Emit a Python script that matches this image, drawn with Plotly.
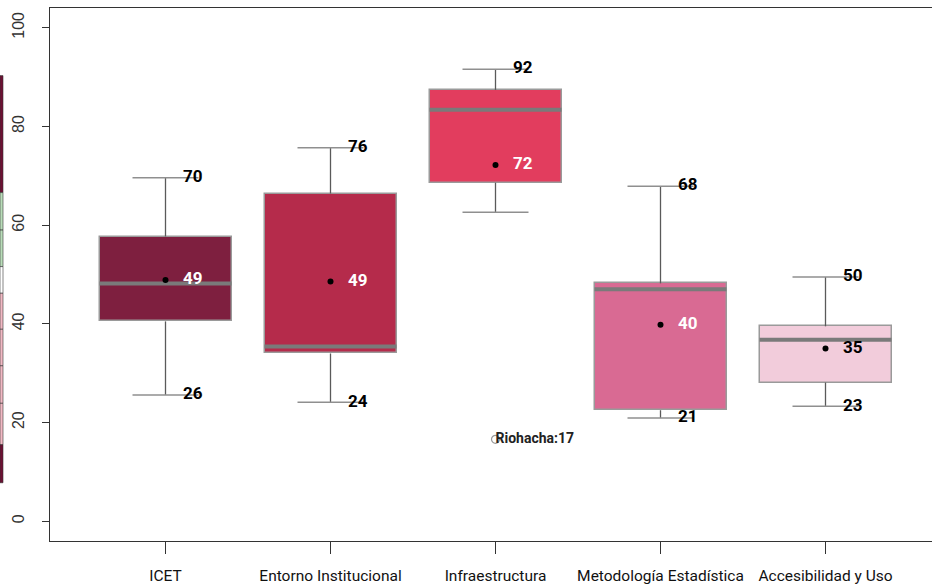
import plotly.graph_objects as go

categories = ["ICET", "Entorno Institucional", "Infraestructura",
              "Metodología Estadística", "Accesibilidad y Uso"]
lower_whisker = [25.6, 24.1, 62.6, 20.9, 23.3]
q1 = [40.5, 34.0, 68.6, 22.5, 28.1]
median = [48.2, 35.4, 83.4, 47.0, 36.8]
q3 = [57.7, 66.4, 87.4, 48.2, 39.5]
upper_whisker = [69.6, 75.7, 91.6, 67.9, 49.5]
means = [48.9, 48.6, 72.2, 39.8, 35.0]
max_labels = ["70", "76", "92", "68", "50"]
min_labels = ["26", "24", "", "21", "23"]
mean_labels = ["49", "49", "72", "40", "35"]
mean_label_colors = ["white", "white", "white", "white", "black"]
box_colors = ["#7E1F3F", "#B52B4B", "#E23D5E", "#D96A93", "#F2CCDB"]

outlier_cat = [3]
outlier_val = [16.6]
outlier_text = ["Riohacha:17"]

y_ticks = [0, 20, 40, 60, 80, 100]

# decorative cropped legend strip on the far left (value bounds + colours)
strip_bounds = [90.3, 66.6, 59.0, 51.6, 46.2, 38.9, 31.5, 23.9, 15.5, 7.8]
strip_colors = ["#6E0F33", "#B9DDB9", "#B9DDB9", "#FFFFFF", "#F2B9C4",
                "#F2B9C4", "#F2B9C4", "#F2B9C4", "#6E0F33"]

BW = 0.8
xs = list(range(1, len(categories) + 1))
NARROW = "Liberation Sans Narrow, Roboto, sans-serif"

fig = go.Figure()

# whisker stems
wx, wy = [], []
for x, lo, a, b, hi in zip(xs, lower_whisker, q1, q3, upper_whisker):
    wx += [x, x, None, x, x, None]
    wy += [b, hi, None, lo, a, None]
fig.add_trace(go.Scatter(x=wx, y=wy, mode="lines",
                         line=dict(color="#5a5a5a", width=1.3),
                         hoverinfo="skip", showlegend=False))
# staples
sx, sy = [], []
for x, lo, hi in zip(xs, lower_whisker, upper_whisker):
    sx += [x - BW / 4, x + BW / 4, None, x - BW / 4, x + BW / 4, None]
    sy += [hi, hi, None, lo, lo, None]
fig.add_trace(go.Scatter(x=sx, y=sy, mode="lines",
                         line=dict(color="#8f8f8f", width=1.5),
                         hoverinfo="skip", showlegend=False))

# boxes
fig.add_trace(go.Bar(x=xs, y=[b - a for a, b in zip(q1, q3)], base=q1,
                     width=BW, marker=dict(color=box_colors,
                                           line=dict(color="#9a9a9a", width=1.5)),
                     hoverinfo="skip", showlegend=False))

# medians
mx, my = [], []
for x, m in zip(xs, median):
    mx += [x - BW / 2, x + BW / 2, None]
    my += [m, m, None]
fig.add_trace(go.Scatter(x=mx, y=my, mode="lines",
                         line=dict(color="#7a7a7a", width=4),
                         hoverinfo="skip", showlegend=False))

# means
fig.add_trace(go.Scatter(x=xs, y=means, mode="markers",
                         marker=dict(color="black", size=6),
                         hoverinfo="skip", showlegend=False))

OFF = 0.165
lab_font = dict(family=NARROW, size=17, weight="bold")
fig.add_trace(go.Scatter(x=[x + OFF for x in xs], y=means, mode="text",
                         text=mean_labels, textposition="middle center",
                         textfont=dict(lab_font, color=mean_label_colors),
                         hoverinfo="skip", showlegend=False))
fig.add_trace(go.Scatter(x=[x + OFF for x in xs], y=upper_whisker, mode="text",
                         text=max_labels, textposition="middle center",
                         textfont=dict(lab_font, color="black"),
                         hoverinfo="skip", showlegend=False))
fig.add_trace(go.Scatter(x=[x + OFF for x in xs], y=lower_whisker, mode="text",
                         text=min_labels, textposition="middle center",
                         textfont=dict(lab_font, color="black"),
                         hoverinfo="skip", showlegend=False))

# outlier
fig.add_trace(go.Scatter(x=outlier_cat, y=outlier_val, mode="markers",
                         marker=dict(symbol="circle-open", color="#9a9a9a", size=8,
                                     line=dict(width=1.2, color="#9a9a9a")),
                         hoverinfo="skip", showlegend=False))
fig.add_trace(go.Scatter(x=outlier_cat, y=outlier_val, mode="text",
                         text=outlier_text, textposition="middle right",
                         textfont=dict(family=NARROW, size=14, weight="bold",
                                       color="#222"),
                         hoverinfo="skip", showlegend=False))

W, H = 932, 585
ML, MR, MT, MB = 50, 0, 8, 44
px_per_unit = 165.0
x0 = 0.3
x1 = x0 + (W - ML - MR) / px_per_unit

shapes = []
for i, c in enumerate(strip_colors):
    shapes.append(dict(type="rect", xref="paper", yref="y",
                       x0=-50 / (W - ML), x1=-47 / (W - ML),
                       y0=strip_bounds[i + 1], y1=strip_bounds[i],
                       fillcolor=c, line=dict(color="#333", width=0.6)))

fig.update_layout(
    width=W, height=H,
    margin=dict(l=ML, r=MR, t=MT, b=MB, pad=0),
    paper_bgcolor="white", plot_bgcolor="white",
    bargap=0, showlegend=False,
    shapes=shapes,
    xaxis=dict(range=[x0, x1], tickmode="array", tickvals=xs, ticktext=categories,
               showline=True, linecolor="#333", linewidth=1.2, mirror=True,
               ticks="outside", ticklen=12, tickcolor="#333", tickwidth=1,
               showgrid=False, zeroline=False, tickangle=0, automargin=False,
               ticklabelstandoff=8,
               tickfont=dict(family=NARROW, size=15.5, color="#111")),
    yaxis=dict(range=[-4, 104], tickmode="array", tickvals=y_ticks,
               showline=True, linecolor="#333", linewidth=1.2, mirror=False,
               ticks="outside", ticklen=7, tickcolor="#333", tickwidth=1,
               showgrid=False, zeroline=False, tickangle=-90, automargin=False,
               ticklabelstandoff=12,
               tickfont=dict(family="Liberation Sans, Arial, sans-serif", size=16,
                             color="#333")),
)

fig.write_html("out.html",
               config={"displayModeBar": False},
               post_script="document.body.style.margin='0px';"
                           "document.body.style.padding='0px';")
